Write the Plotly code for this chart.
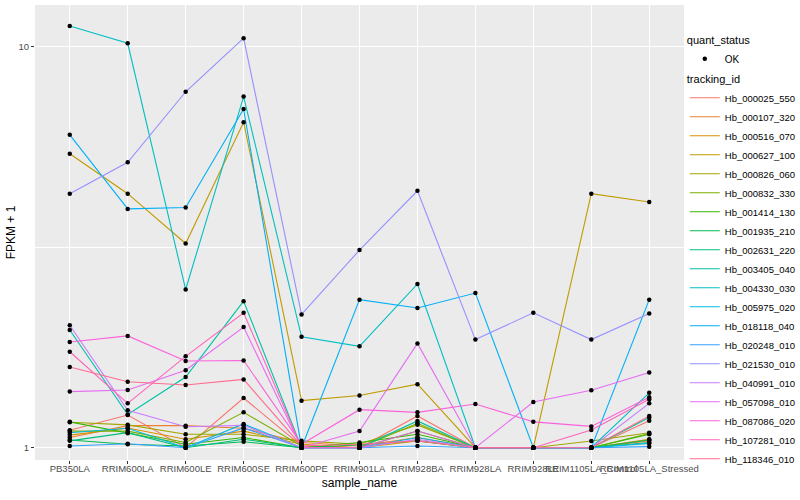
import plotly.graph_objects as go

samples = ["PB350LA", "RRIM600LA", "RRIM600LE", "RRIM600SE", "RRIM600PE", "RRIM901LA",
           "RRIM928BA", "RRIM928LA", "RRIM928LE", "RRIM1105LA_Control", "RRIM1105LA_Stressed"]

tracking_ids = ["Hb_000025_550", "Hb_000107_320", "Hb_000516_070", "Hb_000627_100", "Hb_000826_060",
                "Hb_000832_330", "Hb_001414_130", "Hb_001935_210", "Hb_002631_220", "Hb_003405_040",
                "Hb_004330_030", "Hb_005975_020", "Hb_018118_040", "Hb_020248_010", "Hb_021530_010",
                "Hb_040991_010", "Hb_057098_010", "Hb_087086_020", "Hb_107281_010", "Hb_118346_010"]

colors = ["#F8766D", "#EA8331", "#D89000", "#C09B00", "#A3A500", "#7CAE00", "#39B600", "#00BB4E",
          "#00BF7D", "#00C1A3", "#00BFC4", "#00BAE0", "#00B0F6", "#35A2FF", "#9590FF", "#C77CFF",
          "#E76BF3", "#FA62DB", "#FF62BC", "#FF6C91"]

Hb_000025_550 = [1.105, 1.206, 1.00, 1.33, 1.01, 1.00, 1.20, 1.0, 1.0, 1.0, 1.168]
Hb_000107_320 = [1.06, 1.135, 1.135, 1.118, 1.03, 1.01, 1.06, 1.0, 1.0, 1.0, 1.04]
Hb_000516_070 = [1.075, 1.12, 1.05, 1.10, 1.02, 1.00, 1.04, 1.0, 1.0, 1.0, 1.05]
Hb_000627_100 = [5.41, 4.30, 3.23, 6.48, 1.31, 1.35, 1.44, 1.0, 1.0, 4.30, 4.10]
Hb_000826_060 = [1.157, 1.14, 1.08, 1.08, 1.04, 1.02, 1.14, 1.0, 1.0, 1.039, 1.09]
Hb_000832_330 = [1.10, 1.10, 1.03, 1.225, 1.01, 1.00, 1.15, 1.0, 1.0, 1.0, 1.085]
Hb_001414_130 = [1.16, 1.086, 1.02, 1.06, 1.00, 1.03, 1.08, 1.0, 1.0, 1.0, 1.08]
Hb_001935_210 = [1.045, 1.02, 1.01, 1.035, 1.00, 1.017, 1.04, 1.0, 1.0, 1.0, 1.045]
Hb_002631_220 = [1.04, 1.09, 1.00, 1.05, 1.00, 1.00, 1.10, 1.0, 1.0, 1.0, 1.03]
Hb_003405_040 = [1.966, 1.21, 1.50, 2.32, 1.00, 1.00, 1.166, 1.0, 1.0, 1.0, 1.19]
Hb_004330_030 = [11.26, 10.2, 2.48, 7.51, 1.89, 1.79, 2.56, 1.0, 1.0, 1.0, 1.37]
Hb_005975_020 = [1.09, 1.118, 1.00, 1.146, 1.00, 1.00, 1.06, 1.0, 1.0, 1.0, 1.025]
Hb_018118_040 = [6.03, 3.94, 3.97, 6.99, 1.00, 2.34, 2.23, 2.43, 1.0, 1.0, 2.34]
Hb_020248_010 = [1.01, 1.023, 1.00, 1.12, 1.00, 1.00, 1.01, 1.0, 1.0, 1.0, 1.006]
Hb_021530_010 = [4.30, 5.15, 7.72, 10.5, 2.15, 3.11, 4.37, 1.86, 2.17, 1.86, 2.16]
Hb_040991_010 = [2.02, 1.24, 1.128, 1.137, 1.00, 1.00, 1.05, 1.0, 1.0, 1.0, 1.29]
Hb_057098_010 = [1.38, 1.393, 1.56, 2.00, 1.00, 1.10, 1.82, 1.0, 1.30, 1.39, 1.54]
Hb_087086_020 = [1.835, 1.90, 1.645, 1.65, 1.02, 1.244, 1.225, 1.285, 1.16, 1.13, 1.336]
Hb_107281_010 = [1.735, 1.29, 1.69, 2.17, 1.00, 1.00, 1.10, 1.0, 1.0, 1.107, 1.32]
Hb_118346_010 = [1.59, 1.46, 1.433, 1.48, 1.01, 1.02, 1.04, 1.0, 1.0, 1.0, 1.20]

series = [Hb_000025_550, Hb_000107_320, Hb_000516_070, Hb_000627_100, Hb_000826_060,
          Hb_000832_330, Hb_001414_130, Hb_001935_210, Hb_002631_220, Hb_003405_040,
          Hb_004330_030, Hb_005975_020, Hb_018118_040, Hb_020248_010, Hb_021530_010,
          Hb_040991_010, Hb_057098_010, Hb_087086_020, Hb_107281_010, Hb_118346_010]

FONT = "Liberation Sans, Arial, sans-serif"

fig = go.Figure()
for name, vals, col in zip(tracking_ids, series, colors):
    fig.add_trace(go.Scatter(x=samples, y=vals, mode="lines", name=name,
                             line=dict(color=col, width=1.1), legend="legend2",
                             hoverinfo="skip"))

all_x, all_y = [], []
for vals in series:
    all_x += samples
    all_y += vals
fig.add_trace(go.Scatter(x=all_x, y=all_y, mode="markers", name="OK",
                         marker=dict(color="black", size=4.5), legend="legend"))

fig.update_layout(
    width=800, height=500,
    margin=dict(l=35, r=116, t=5, b=40, autoexpand=False),
    paper_bgcolor="white", plot_bgcolor="#EBEBEB",
    font=dict(family=FONT, color="black"),
    showlegend=True,
    legend=dict(title=dict(text="quant_status", font=dict(size=11)),
                xref="container", yref="container", x=0.856, y=0.94,
                xanchor="left", yanchor="top", font=dict(size=10),
                itemwidth=30, bgcolor="rgba(0,0,0,0)"),
    legend2=dict(title=dict(text="tracking_id", font=dict(size=11)),
                 xref="container", yref="container", x=0.856, y=0.862,
                 xanchor="left", yanchor="top", font=dict(size=9.5),
                 itemwidth=30, bgcolor="rgba(0,0,0,0)", tracegroupgap=0,
                 maxheight=440),
    xaxis=dict(type="category", categoryorder="array", categoryarray=samples,
               range=[-0.6, 10.6], showgrid=True, gridcolor="white", gridwidth=1.1,
               zeroline=False, ticks="outside", ticklen=3, tickcolor="#333333",
               tickangle=0, tickfont=dict(size=9.5, color="#4D4D4D"),
               ticklabelstandoff=-3, automargin=True,
               title=dict(text="sample_name", font=dict(size=12), standoff=5),
               showline=False),
    yaxis=dict(type="log", range=[-0.0307, 1.104], tickvals=[1, 10], ticktext=["1", "10"],
               showgrid=True, gridcolor="white", gridwidth=1.1, zeroline=False,
               ticks="outside", ticklen=3, tickcolor="#333333",
               tickfont=dict(size=9.5, color="#4D4D4D"), automargin=True,
               minor=dict(tickvals=[3.1623], showgrid=True, gridcolor="white", gridwidth=0.5, ticks=""),
               title=dict(text="FPKM + 1", font=dict(size=12), standoff=0),
               showline=False),
)

fig.write_html("out.html", config={"displayModeBar": False},
               post_script="document.body.style.margin='0';")
